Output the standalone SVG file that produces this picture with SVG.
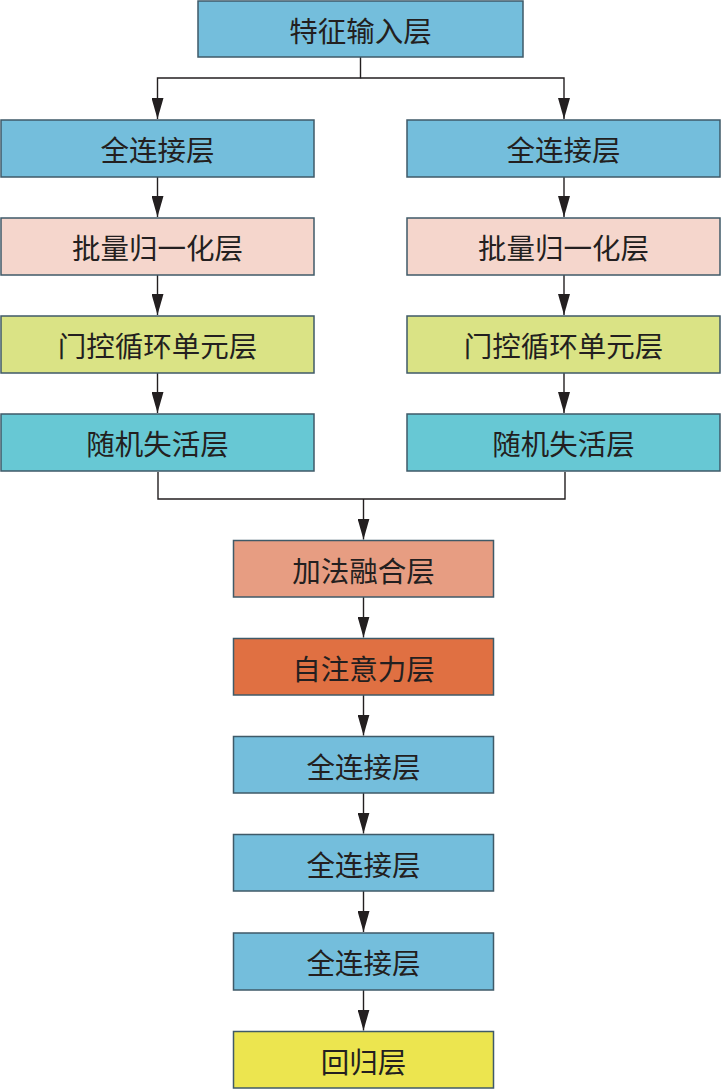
<svg xmlns="http://www.w3.org/2000/svg" width="721" height="1090" viewBox="0 0 721 1090">
<style>
.box{stroke:#3f5a68;stroke-width:1.5}
.t{font-family:"Noto Sans CJK SC","Noto Sans CJK JP",sans-serif;font-size:28.5px;fill:#231f20;text-anchor:middle;dominant-baseline:central}
.blue{fill:#74bedc}.pink{fill:#f5d6cc}.lime{fill:#dae385}.teal{fill:#67c8d4}.salmon{fill:#e79d82}.orange{fill:#e07042}.yellow{fill:#ece54f}
.c{fill:none;stroke:#231f20;stroke-width:1.4}
</style>
<defs>
<marker id="a" markerWidth="21" markerHeight="12" refX="21" refY="6" orient="auto" markerUnits="userSpaceOnUse" viewBox="0 0 21 12">
<path d="M0,0 L21,6 L0,12 Z" fill="#231f20"/>
</marker>
</defs>
<g id="connectors">
<path class="c" d="M360.5,57 V78 H157.5 V119" marker-end="url(#a)"/>
<path class="c" d="M360.5,78 H564 V119" marker-end="url(#a)"/>
<path class="c" d="M157.5,177 V217" marker-end="url(#a)"/>
<path class="c" d="M157.5,275 V315" marker-end="url(#a)"/>
<path class="c" d="M157.5,373 V413" marker-end="url(#a)"/>
<path class="c" d="M564,177 V217" marker-end="url(#a)"/>
<path class="c" d="M564,275 V315" marker-end="url(#a)"/>
<path class="c" d="M564,373 V413" marker-end="url(#a)"/>
<path class="c" d="M158,472 V499 H565 V472"/>
<path class="c" d="M363.5,499 V539.5" marker-end="url(#a)"/>
<path class="c" d="M363.5,597 V637.5" marker-end="url(#a)"/>
<path class="c" d="M363.5,695 V735.5" marker-end="url(#a)"/>
<path class="c" d="M363.5,793 V833.5" marker-end="url(#a)"/>
<path class="c" d="M363.5,891 V932" marker-end="url(#a)"/>
<path class="c" d="M363.5,990 V1030.5" marker-end="url(#a)"/>
</g>
<g id="n_input"><rect class="box blue" x="198" y="1" width="325" height="56"/><text class="t" x="360.5" y="29">特征输入层</text></g>
<g id="n_fc_l"><rect class="box blue" x="1" y="120" width="313" height="57"/><text class="t" x="157.5" y="148.5">全连接层</text></g>
<g id="n_bn_l"><rect class="box pink" x="1" y="218" width="313" height="57"/><text class="t" x="157.5" y="246.5">批量归一化层</text></g>
<g id="n_gru_l"><rect class="box lime" x="1" y="316" width="313" height="57"/><text class="t" x="157.5" y="344.5">门控循环单元层</text></g>
<g id="n_do_l"><rect class="box teal" x="1" y="414" width="313" height="57"/><text class="t" x="157.5" y="442.5">随机失活层</text></g>
<g id="n_fc_r"><rect class="box blue" x="407" y="120" width="313" height="57"/><text class="t" x="563.5" y="148.5">全连接层</text></g>
<g id="n_bn_r"><rect class="box pink" x="407" y="218" width="313" height="57"/><text class="t" x="563.5" y="246.5">批量归一化层</text></g>
<g id="n_gru_r"><rect class="box lime" x="407" y="316" width="313" height="57"/><text class="t" x="563.5" y="344.5">门控循环单元层</text></g>
<g id="n_do_r"><rect class="box teal" x="407" y="414" width="313" height="57"/><text class="t" x="563.5" y="442.5">随机失活层</text></g>
<g id="n_add"><rect class="box salmon" x="233.5" y="540.5" width="260" height="56.5"/><text class="t" x="363.5" y="569">加法融合层</text></g>
<g id="n_att"><rect class="box orange" x="233.5" y="638.5" width="260" height="56.5"/><text class="t" x="363.5" y="667">自注意力层</text></g>
<g id="n_fc1"><rect class="box blue" x="233.5" y="736.5" width="260" height="56.5"/><text class="t" x="363.5" y="765">全连接层</text></g>
<g id="n_fc2"><rect class="box blue" x="233.5" y="834.5" width="260" height="56.5"/><text class="t" x="363.5" y="863">全连接层</text></g>
<g id="n_fc3"><rect class="box blue" x="233.5" y="933" width="260" height="57"/><text class="t" x="363.5" y="961.5">全连接层</text></g>
<g id="n_reg"><rect class="box yellow" x="233.5" y="1031.5" width="260" height="56.5"/><text class="t" x="363.5" y="1060">回归层</text></g>
</svg>
